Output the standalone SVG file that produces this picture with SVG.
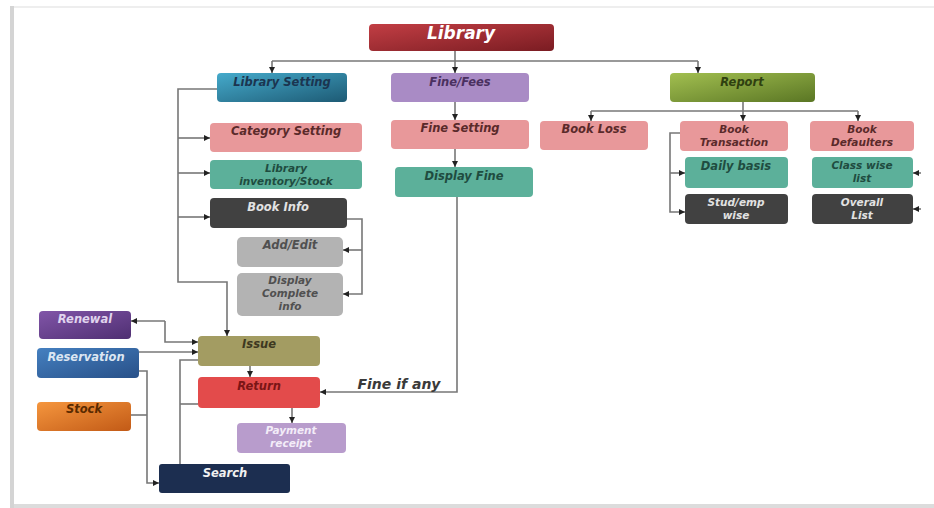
<svg xmlns="http://www.w3.org/2000/svg" width="934" height="508" viewBox="0 0 934 508">
<defs>
<linearGradient id="gLib" x1="0" y1="0" x2="1" y2="1"><stop offset="0" stop-color="#c23e44"/><stop offset="1" stop-color="#7a1c22"/></linearGradient>
<linearGradient id="gLS" x1="0" y1="0" x2="1" y2="1"><stop offset="0" stop-color="#45aacb"/><stop offset="1" stop-color="#1d5a74"/></linearGradient>
<linearGradient id="gRep" x1="0" y1="0" x2="1" y2="1"><stop offset="0" stop-color="#a2bf50"/><stop offset="1" stop-color="#5a7624"/></linearGradient>
<linearGradient id="gRen" x1="0" y1="0" x2="1" y2="1"><stop offset="0" stop-color="#8155a8"/><stop offset="1" stop-color="#4f2f72"/></linearGradient>
<linearGradient id="gRes" x1="0" y1="0" x2="1" y2="1"><stop offset="0" stop-color="#4580c0"/><stop offset="1" stop-color="#285088"/></linearGradient>
<linearGradient id="gSto" x1="0" y1="0" x2="1" y2="1"><stop offset="0" stop-color="#f5963e"/><stop offset="1" stop-color="#c25a16"/></linearGradient>
<marker id="ar" markerUnits="userSpaceOnUse" markerWidth="7" markerHeight="7" refX="6" refY="3.5" orient="auto"><path d="M0,0.5 L6,3.5 L0,6.5 Z" fill="#222"/></marker>
</defs>
<style>
text{font-family:"DejaVu Sans","Verdana",sans-serif;font-weight:bold;font-style:italic;font-size:11.5px;text-anchor:middle}
.m{font-size:10.5px}
.n rect{stroke:none}
.c path{fill:none;stroke:#777;stroke-width:1.6}
.a{marker-end:url(#ar)}
.pink{fill:#e8989a}.pinkt{fill:#5a2a2a}
.teal{fill:#5cb09a}.tealt{fill:#1f4c40}
.dark{fill:#414141}.darkt{fill:#e2e2e2}
.gray{fill:#b3b3b3}.grayt{fill:#505050}
</style>
<rect x="0" y="0" width="934" height="508" fill="#fff"/>
<g id="frame">
<rect x="10" y="6" width="4" height="502" fill="#d4d4d4"/>
<rect x="14" y="6" width="920" height="2" fill="#eeeeee"/>
<rect x="14" y="504" width="920" height="4" fill="#dcdcdc"/>
</g>
<g class="c" id="connectors">
<path d="M455,51 V61"/>
<path d="M272,61 H698"/>
<path class="a" d="M272,61 V73"/>
<path class="a" d="M455,61 V73"/>
<path class="a" d="M698,61 V73"/>
<path d="M743,102 V111"/>
<path d="M591,111 H858"/>
<path class="a" d="M591,111 V121"/>
<path class="a" d="M743,111 V121"/>
<path class="a" d="M858,111 V121"/>
<path class="a" d="M217,89 H178 V282 H227 V336"/>
<path class="a" d="M178,138 H210"/>
<path class="a" d="M178,173 H210"/>
<path class="a" d="M178,217 H210"/>
<path class="a" d="M455,102 V120"/>
<path class="a" d="M455,149 V167"/>
<path class="a" d="M457,197 V392 H320"/>
<path class="a" d="M347,219 H362 V294 H343"/>
<path class="a" d="M362,250 H343"/>
<path class="a" d="M680,133 H670 V212 H685"/>
<path class="a" d="M670,173 H685"/>
<path class="a" d="M921,173 H913"/>
<path class="a" d="M921,209 H913"/>
<path class="a" d="M250,366 V377"/>
<path class="a" d="M292,408 V423"/>
<path class="a" d="M165,321 H131"/>
<path class="a" d="M165,321 V342 H198"/>
<path class="a" d="M139,352 H198"/>
<path class="a" d="M139,371 H147 V483 H159"/>
<path d="M131,415 H147"/>
<path d="M180,464 V360 H198"/>
<path d="M180,404 H198"/>
</g>
<text x="399" y="389" style="font-size:14px;fill:#3a3a3a">Fine if any</text>
<g class="n" id="library"><rect x="369" y="24" width="185" height="27" rx="4" fill="url(#gLib)"/><text x="461" y="39" style="font-size:17px;fill:#fff">Library</text></g>
<g class="n" id="librarySetting"><rect x="217" y="73" width="130" height="29" rx="4" fill="url(#gLS)"/><text x="282" y="86" fill="#1b3550">Library Setting</text></g>
<g class="n" id="fineFees"><rect x="391" y="73" width="138" height="29" rx="4" fill="#a98bc5"/><text x="460" y="86" fill="#4a3060">Fine/Fees</text></g>
<g class="n" id="report"><rect x="670" y="73" width="145" height="29" rx="4" fill="url(#gRep)"/><text x="742" y="86" fill="#2f4010">Report</text></g>
<g class="n" id="categorySetting"><rect class="pink" x="210" y="123" width="152" height="29" rx="4"/><text class="pinkt" x="286" y="135">Category Setting</text></g>
<g class="n" id="fineSetting"><rect class="pink" x="391" y="120" width="138" height="29" rx="4"/><text class="pinkt" x="460" y="132">Fine Setting</text></g>
<g class="n" id="inventory"><rect class="teal" x="210" y="160" width="152" height="29" rx="4"/><text class="tealt m" x="286" y="172">Library</text><text class="tealt m" x="286" y="185">inventory/Stock</text></g>
<g class="n" id="displayFine"><rect class="teal" x="395" y="167" width="138" height="30" rx="4"/><text class="tealt" x="464" y="180">Display Fine</text></g>
<g class="n" id="bookLoss"><rect class="pink" x="540" y="121" width="108" height="29" rx="4"/><text class="pinkt" x="594" y="133">Book Loss</text></g>
<g class="n" id="bookTransaction"><rect class="pink" x="680" y="121" width="108" height="30" rx="4"/><text class="pinkt m" x="734" y="133">Book</text><text class="pinkt m" x="734" y="146">Transaction</text></g>
<g class="n" id="bookDefaulters"><rect class="pink" x="810" y="121" width="104" height="30" rx="4"/><text class="pinkt m" x="862" y="133">Book</text><text class="pinkt m" x="862" y="146">Defaulters</text></g>
<g class="n" id="dailyBasis"><rect class="teal" x="685" y="157" width="103" height="31" rx="4"/><text class="tealt" x="736" y="170">Daily basis</text></g>
<g class="n" id="classWise"><rect class="teal" x="812" y="157" width="101" height="31" rx="4"/><text class="tealt m" x="862" y="169">Class wise</text><text class="tealt m" x="862" y="182">list</text></g>
<g class="n" id="studEmp"><rect class="dark" x="685" y="194" width="103" height="30" rx="4"/><text class="darkt m" x="736" y="206">Stud/emp</text><text class="darkt m" x="736" y="219">wise</text></g>
<g class="n" id="overallList"><rect class="dark" x="812" y="194" width="101" height="30" rx="4"/><text class="darkt m" x="862" y="206">Overall</text><text class="darkt m" x="862" y="219">List</text></g>
<g class="n" id="bookInfo"><rect class="dark" x="210" y="198" width="137" height="30" rx="4"/><text class="darkt" x="278" y="211">Book Info</text></g>
<g class="n" id="addEdit"><rect class="gray" x="237" y="237" width="106" height="30" rx="5"/><text class="grayt" x="290" y="249">Add/Edit</text></g>
<g class="n" id="displayComplete"><rect class="gray" x="237" y="273" width="106" height="43" rx="5"/><text class="grayt m" x="290" y="284">Display</text><text class="grayt m" x="290" y="297">Complete</text><text class="grayt m" x="290" y="310">info</text></g>
<g class="n" id="renewal"><rect x="39" y="311" width="92" height="28" rx="4" fill="url(#gRen)"/><text x="85" y="323" fill="#e0d4ee">Renewal</text></g>
<g class="n" id="reservation"><rect x="37" y="348" width="102" height="30" rx="4" fill="url(#gRes)"/><text x="86" y="361" fill="#dce6f2">Reservation</text></g>
<g class="n" id="stock"><rect x="37" y="402" width="94" height="29" rx="4" fill="url(#gSto)"/><text x="84" y="413" fill="#5a2a00">Stock</text></g>
<g class="n" id="issue"><rect x="198" y="336" width="122" height="30" rx="4" fill="#a39c62"/><text x="259" y="348" fill="#3d3820">Issue</text></g>
<g class="n" id="return"><rect x="198" y="377" width="122" height="31" rx="4" fill="#e34b4b"/><text x="259" y="390" fill="#7a1515">Return</text></g>
<g class="n" id="payment"><rect x="237" y="423" width="109" height="30" rx="4" fill="#b89ccc"/><text class="m" x="291" y="434" fill="#f3ecf8">Payment</text><text class="m" x="291" y="447" fill="#f3ecf8">receipt</text></g>
<g class="n" id="search"><rect x="159" y="464" width="131" height="29" rx="3" fill="#1c2e50"/><text x="225" y="477" fill="#f0f0f0">Search</text></g>
</svg>
